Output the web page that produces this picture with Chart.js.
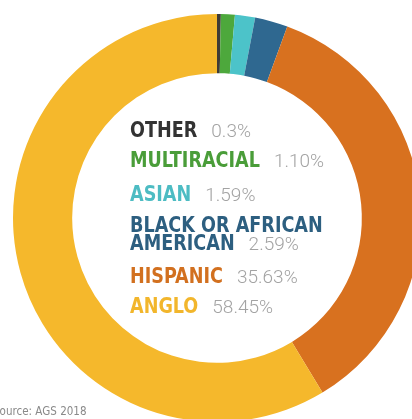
<!DOCTYPE html>
<html lang="en">
<head>
    <meta charset="UTF-8">
    <title>Ethnicity Breakdown</title>
    <script src="https://cdn.jsdelivr.net/npm/chart.js"></script>
    <style>
        html, body {
            margin: 0;
            padding: 0;
            background: #ffffff;
            overflow: hidden;
        }
        #wrap {
            position: absolute;
            left: 0;
            top: 0;
            width: 434px;
            height: 436px;
        }
    </style>
</head>
<body>
    <div id="wrap"><canvas id="ringChart"></canvas></div>

<script>
const groups = ['OTHER', 'MULTIRACIAL', 'ASIAN', 'BLACK OR AFRICAN AMERICAN', 'HISPANIC', 'ANGLO'];
const shares = [0.3, 1.10, 1.59, 2.59, 35.63, 58.45];
const shareLabels = ['0.3%', '1.10%', '1.59%', '2.59%', '35.63%', '58.45%'];
const sliceColors = ['#3f3b36', '#4da83c', '#4cc3c9', '#2f6890', '#d8711f', '#f5b82c'];
const textColors = ['#333333', '#4a9d39', '#4dbcc3', '#2d5f80', '#d2701f', '#f2b62c'];
const sourceNote = 'Source: AGS 2018';

// legend lines drawn in the hole, wrapped the way the graphic does it
const legendLines = [
    { name: 'OTHER', idx: 0, y: 137 },
    { name: 'MULTIRACIAL', idx: 1, y: 167 },
    { name: 'ASIAN', idx: 2, y: 201 },
    { name: 'BLACK OR AFRICAN', idx: 3, y: 232, noValue: true },
    { name: 'AMERICAN', idx: 3, y: 250 },
    { name: 'HISPANIC', idx: 4, y: 283 },
    { name: 'ANGLO', idx: 5, y: 313 }
];

const squeeze = 0.89; // no narrow bold face installed, so squash the condensed one a bit

const centerText = {
    id: 'centerText',
    afterDraw(chart) {
        const ctx = chart.ctx;
        ctx.save();
        ctx.textBaseline = 'alphabetic';
        ctx.textAlign = 'left';
        legendLines.forEach(line => {
            ctx.font = 'bold 22px "DejaVu Sans Condensed", sans-serif';
            ctx.fillStyle = textColors[line.idx];
            ctx.save();
            ctx.translate(130, line.y);
            ctx.scale(squeeze, 1);
            ctx.fillText(line.name, 0, 0);
            ctx.restore();
            if (line.noValue) return;
            const w = ctx.measureText(line.name).width * squeeze;
            ctx.font = '300 19px Roboto, sans-serif';
            ctx.fillStyle = '#a3a3a3';
            ctx.fillText(shareLabels[line.idx], 130 + w + 14, line.y);
        });
        ctx.font = '12px "DejaVu Sans Condensed", sans-serif';
        ctx.fillStyle = '#8a8a8a';
        ctx.save();
        ctx.translate(-7, 415);
        ctx.scale(0.96, 1);
        ctx.fillText(sourceNote, 0, 0);
        ctx.restore();
        ctx.restore();
    }
};

new Chart(document.getElementById('ringChart'), {
    type: 'doughnut',
    data: {
        labels: groups,
        datasets: [{
            data: shares,
            backgroundColor: sliceColors,
            borderWidth: 0
        }]
    },
    options: {
        responsive: true,
        maintainAspectRatio: false,
        animation: false,
        cutout: '71%',
        rotation: 0,
        layout: { padding: 13 },
        plugins: {
            legend: { display: false },
            tooltip: { enabled: false }
        }
    },
    plugins: [centerText]
});
</script>

</body>
</html>
